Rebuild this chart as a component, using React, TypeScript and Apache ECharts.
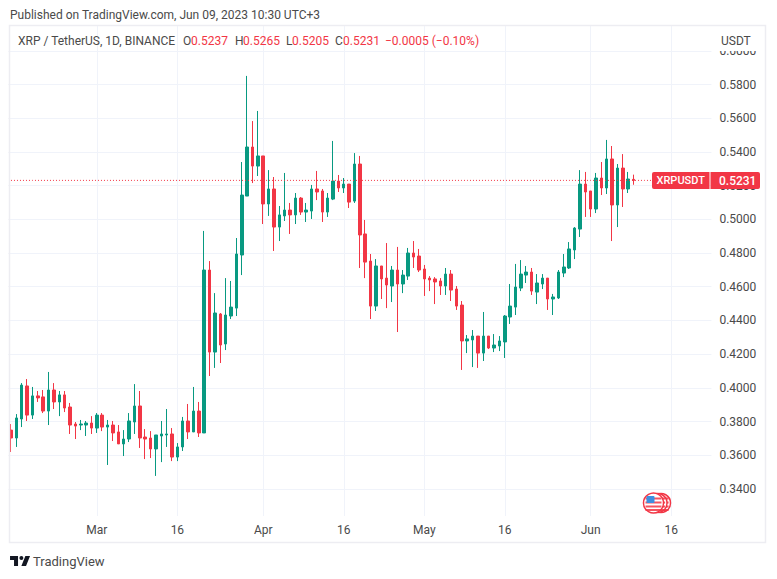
import React, { useEffect, useRef } from "react";
import * as echarts from "echarts";

const UP = "#089981";
const DOWN = "#F23645";
const GRID = "#F0F3FA";
const FRAME = "#EDEDF2";
const TEXT = "#4A4A4A";
const FONT = "Roboto, 'Noto Sans', sans-serif";

const opens = [0.3749,0.3702,0.3815,0.4011,0.3838,0.3952,0.3946,0.3862,0.3987,0.3916,0.3958,0.3886,0.3785,0.3779,0.3779,0.3791,0.3761,0.3838,0.3767,0.3779,
0.3738,0.3667,0.3696,0.3797,0.3892,0.3708,0.3702,0.3637,0.3714,0.3720,0.3726,0.3589,0.3649,0.3803,0.3738,0.3862,0.3732,0.4699,0.4212,0.4438,
0.4260,0.4426,0.4473,0.4788,0.5138,0.5429,0.5316,0.5376,0.5091,0.5180,0.4954,0.5020,0.5055,0.5026,0.5126,0.5043,0.5049,0.5180,0.5168,0.5043,
0.5120,0.5227,0.5186,0.5209,0.5108,0.5328,0.4913,0.4752,0.4485,0.4723,0.4651,0.4604,0.4699,0.4616,0.4663,0.4800,0.4782,0.4705,0.4651,0.4646,
0.4634,0.4604,0.4675,0.4586,0.4491,0.4278,0.4284,0.4307,0.4206,0.4307,0.4236,0.4248,0.4272,0.4420,0.4479,0.4592,0.4669,0.4687,0.4568,0.4616,
0.4651,0.4527,0.4533,0.4681,0.4711,0.4818,0.4942,0.5209,0.5168,0.5061,0.5245,0.5186,0.5358,0.5085,0.5304,0.5180,0.5237];
const closes = [0.3702,0.3821,0.4016,0.3838,0.3952,0.3940,0.3862,0.3987,0.3916,0.3958,0.3880,0.3779,0.3773,0.3785,0.3791,0.3761,0.3838,0.3767,0.3779,0.3732,
0.3667,0.3696,0.3803,0.3892,0.3702,0.3696,0.3637,0.3720,0.3726,0.3726,0.3589,0.3649,0.3803,0.3738,0.3862,0.3732,0.4699,0.4212,0.4444,0.4254,
0.4432,0.4479,0.4794,0.5144,0.5429,0.5316,0.5376,0.5091,0.5180,0.4954,0.5026,0.5055,0.5026,0.5126,0.5043,0.5055,0.5180,0.5162,0.5043,0.5126,
0.5227,0.5186,0.5209,0.5102,0.5328,0.4907,0.4746,0.4485,0.4723,0.4646,0.4610,0.4699,0.4616,0.4669,0.4800,0.4776,0.4699,0.4646,0.4640,0.4628,
0.4604,0.4675,0.4580,0.4485,0.4278,0.4290,0.4307,0.4206,0.4307,0.4236,0.4254,0.4278,0.4426,0.4485,0.4598,0.4675,0.4687,0.4574,0.4622,0.4651,
0.4527,0.4539,0.4687,0.4717,0.4824,0.4948,0.5209,0.5162,0.5061,0.5245,0.5186,0.5358,0.5085,0.5304,0.5180,0.5239,0.5231];
const lows = [0.3619,0.3649,0.3767,0.3803,0.3815,0.3916,0.3850,0.3779,0.3874,0.3832,0.3856,0.3726,0.3696,0.3749,0.3714,0.3726,0.3732,0.3743,0.3542,0.3684,
0.3667,0.3595,0.3678,0.3726,0.3643,0.3577,0.3583,0.3477,0.3559,0.3649,0.3565,0.3565,0.3625,0.3696,0.3738,0.3708,0.3732,0.4070,0.4118,0.4147,
0.4224,0.4408,0.4426,0.4669,0.5138,0.5215,0.5257,0.4972,0.5020,0.4812,0.4871,0.4990,0.4913,0.4972,0.5026,0.4984,0.5002,0.5114,0.4984,0.5014,
0.5114,0.5162,0.5156,0.5067,0.5097,0.4711,0.4651,0.4408,0.4456,0.4527,0.4473,0.4509,0.4331,0.4562,0.4640,0.4711,0.4687,0.4545,0.4574,0.4497,
0.4551,0.4551,0.4515,0.4462,0.4106,0.4206,0.4123,0.4118,0.4159,0.4230,0.4212,0.4218,0.4177,0.4379,0.4432,0.4574,0.4622,0.4551,0.4497,0.4586,
0.4462,0.4432,0.4527,0.4657,0.4705,0.4764,0.4895,0.5014,0.5014,0.5037,0.5144,0.5150,0.4871,0.4954,0.5073,0.5156,0.5205];
const highs = [0.3785,0.3844,0.4028,0.4052,0.4005,0.3981,0.3987,0.4094,0.4028,0.3981,0.3981,0.3910,0.3797,0.3809,0.3803,0.3832,0.3850,0.3850,0.3809,0.3803,
0.3779,0.3749,0.3850,0.4022,0.3981,0.3755,0.3743,0.3720,0.3803,0.3874,0.3761,0.3672,0.3827,0.3904,0.4005,0.3916,0.4931,0.4752,0.4562,0.4444,
0.4651,0.4634,0.4889,0.5340,0.5851,0.5583,0.5643,0.5376,0.5292,0.5251,0.5079,0.5275,0.5097,0.5156,0.5132,0.5097,0.5204,0.5287,0.5180,0.5156,
0.5465,0.5263,0.5245,0.5209,0.5393,0.5376,0.4996,0.4794,0.4764,0.4723,0.4859,0.4723,0.4836,0.4699,0.4830,0.4871,0.4824,0.4729,0.4663,0.4657,
0.4651,0.4711,0.4699,0.4604,0.4515,0.4313,0.4343,0.4307,0.4450,0.4307,0.4319,0.4307,0.4432,0.4616,0.4735,0.4758,0.4723,0.4711,0.4675,0.4675,
0.4651,0.4557,0.4699,0.4794,0.4865,0.4954,0.5292,0.5281,0.5168,0.5275,0.5340,0.5471,0.5435,0.5328,0.5387,0.5281,0.5265];

const lastPrice = 0.5231;
const priceTicksMin = 0.34;
const priceTicksMax = 0.6;
const priceTickStep = 0.02;
const dayCount = 131; // Feb 13 to the empty space on the right of the last candle
const firstDay = Date.UTC(2023, 1, 13);
const timeTickDays: Record<number, string> = { 16: "Mar", 31: "16", 47: "Apr", 62: "16", 77: "May", 92: "16", 108: "Jun", 123: "16" };

const days = Array.from({ length: dayCount }, (_, i) =>
  new Date(firstDay + i * 86400000).toISOString().slice(0, 10)
);
const candles = opens.map((o, i) => [o, closes[i], lows[i], highs[i]]);
const lastPriceLine = days.map(() => lastPrice);

const STEP = 5.367;
const PLOT_RIGHT = 711.4;
const PX_TOP = 50.8;
const PX_BOTTOM = 488.9;
const isTimeTick = (i: number) => timeTickDays[i] !== undefined;

const USFlag = (cx: number, cy: number, r: number) => ({
  type: "group",
  children: [
    { type: "circle", z: 65, shape: { cx, cy, r }, style: { fill: "#fff", stroke: DOWN, lineWidth: 1.5 } },
    ...[-5.5, -1.5, 2.5, 6].map((d) => ({
      type: "rect",
      z: 65,
      shape: { x: cx - r * 0.8, y: cy + d, width: r * 1.6, height: 2 },
      style: { fill: DOWN, opacity: 0.85 },
    })),
    { type: "rect", z: 65, shape: { x: cx - 7, y: cy - 7, width: 8, height: 7, r: 1 }, style: { fill: "#3D8FE0" } },
  ],
});

export default function App() {
  const ref = useRef<HTMLDivElement>(null);
  useEffect(() => {
    const chart = echarts.init(ref.current!, undefined, { renderer: "svg" });
    echarts.graphic.registerShape(
      "tvlogo",
      echarts.graphic.extendPath(
        "M14 6H2v6h6v9h6V6zm12 15h-7l6-15h7l-6 15zm-7-9a3 3 0 1 0 0-6 3 3 0 0 0 0 6z",
        {}
      ) as any
    );
    const headerText = (x: number, text: string, fill: string) => ({
      type: "text",
      z: 61,
      x,
      y: 41,
      style: { text, fill, font: `12px ${FONT}`, textVerticalAlign: "middle" },
    });
    chart.setOption({
      animation: false,
      backgroundColor: "#fff",
      grid: [
        { left: 8.3, top: PX_TOP, width: PLOT_RIGHT - 8.3, height: PX_BOTTOM - PX_TOP },
        { left: 11, top: 26, width: STEP * (dayCount - 1), height: 490 },
      ],
      xAxis: [
        { type: "category", gridIndex: 0, data: days, show: false },
        {
          type: "category",
          gridIndex: 1,
          data: days,
          boundaryGap: false,
          axisLine: { show: false },
          axisTick: { show: false },
          splitLine: { show: true, interval: (i: number) => isTimeTick(i), lineStyle: { color: GRID, width: 1 } },
          axisLabel: {
            interval: (i: number) => isTimeTick(i),
            formatter: (_: string, i: number) => timeTickDays[i] ?? "",
            color: TEXT,
            fontSize: 12,
            fontFamily: FONT,
            margin: 8,
          },
        },
      ],
      yAxis: [
        {
          type: "value",
          gridIndex: 0,
          position: "right",
          min: priceTicksMin,
          max: priceTicksMax,
          interval: priceTickStep,
          axisLine: { show: false },
          axisTick: { show: false },
          splitLine: { show: true, lineStyle: { color: GRID, width: 1 } },
          axisLabel: { formatter: (v: number) => v.toFixed(4), color: TEXT, fontSize: 12, fontFamily: FONT, margin: 8 },
        },
        { type: "value", gridIndex: 1, show: false },
      ],
      series: [
        {
          type: "candlestick",
          xAxisIndex: 0,
          yAxisIndex: 0,
          data: candles,
          barWidth: 3,
          clip: false,
          itemStyle: { color: UP, color0: DOWN, borderColor: UP, borderColor0: DOWN, borderWidth: 1 },
        },
        {
          type: "line",
          xAxisIndex: 0,
          yAxisIndex: 0,
          data: lastPriceLine,
          showSymbol: false,
          silent: true,
          lineStyle: { color: DOWN, type: [1, 2], width: 1 },
        },
      ],
      graphic: [
        { type: "rect", z: 50, shape: { x: 712, y: 27, width: 53, height: 24 }, style: { fill: "#fff" } },
        { type: "rect", z: 50, shape: { x: 0, y: 0, width: 777, height: 26 }, style: { fill: "#fff" } },
        { type: "rect", z: 60, shape: { x: 9.5, y: 25.5, width: 756, height: 517 }, style: { fill: "none", stroke: FRAME, lineWidth: 1.5 } },
        { type: "text", z: 61, x: 10, y: 15, style: { text: "Published on TradingView.com, Jun 09, 2023 10:30 UTC+3", fill: TEXT, font: `12px ${FONT}`, textVerticalAlign: "middle" } },
        headerText(18, "XRP / TetherUS, 1D, BINANCE", TEXT),
        headerText(183, "O", TEXT),
        headerText(191, "0.5237", DOWN),
        headerText(235, "H", TEXT),
        headerText(243, "0.5265", DOWN),
        headerText(286, "L", TEXT),
        headerText(292, "0.5205", DOWN),
        headerText(335, "C", TEXT),
        headerText(343, "0.5231", DOWN),
        headerText(385, "−0.0005 (−0.10%)", DOWN),
        { type: "text", z: 61, x: 721, y: 41, style: { text: "USDT", fill: TEXT, font: `12px ${FONT}`, textVerticalAlign: "middle" } },
        { type: "rect", z: 70, shape: { x: 652, y: 172, width: 57.5, height: 17, r: [2, 0, 0, 2] }, style: { fill: DOWN } },
        { type: "rect", z: 70, shape: { x: 710.5, y: 172, width: 49.5, height: 17, r: [0, 2, 2, 0] }, style: { fill: DOWN } },
        { type: "text", z: 71, x: 656.5, y: 180.5, style: { text: "XRPUSDT", fill: "#fff", font: `500 11px ${FONT}`, textVerticalAlign: "middle" } },
        { type: "text", z: 71, x: 719, y: 180.5, style: { text: "0.5231", fill: "#fff", font: `500 12px ${FONT}`, textVerticalAlign: "middle" } },
        USFlag(661, 503, 9.5),
        USFlag(657.5, 503, 9.5),
        USFlag(653.5, 503, 10),
        { type: "tvlogo", z: 61, x: 8.7, y: 552, scaleX: 0.667, scaleY: 0.667, style: { fill: "#131722" } },
        { type: "text", z: 61, x: 33, y: 561.5, style: { text: "TradingView", fill: TEXT, font: `13px ${FONT}`, textVerticalAlign: "middle" } },
      ],
    });
    return () => chart.dispose();
  }, []);
  return <div ref={ref} style={{ position: "fixed", left: 0, top: 0, width: 777, height: 579 }} />;
}
